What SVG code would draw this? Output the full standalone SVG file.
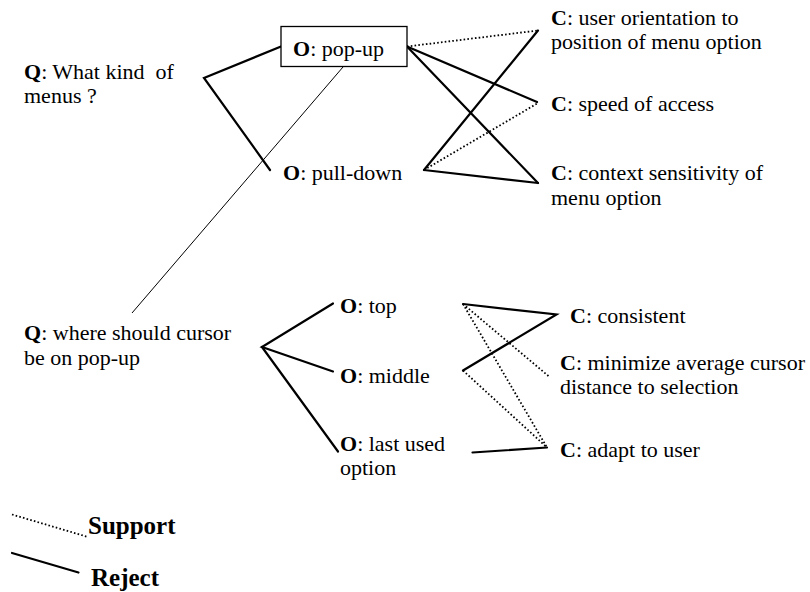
<svg xmlns="http://www.w3.org/2000/svg" width="810" height="592" viewBox="0 0 810 592">
<style>
.t{font-size:22px;fill:#000}
.b{font-weight:bold}
.lg{font-size:25px;font-weight:bold}
.rej{stroke:#000;stroke-width:2.2;fill:none;stroke-linecap:round;stroke-linejoin:miter}
.sup{stroke:#000;stroke-width:1.8;fill:none;stroke-dasharray:1.6 2.2}
.thin{stroke:#000;stroke-width:1;fill:none}
</style>
<rect width="810" height="592" fill="#fff"/>
<g id="connectors">
<polyline class="rej" points="281,46.5 204,78 270,170"/>
<line class="thin" x1="343" y1="67" x2="132" y2="313"/>
<line class="sup" x1="407" y1="46.5" x2="538" y2="30.5"/>
<line class="rej" x1="407" y1="46.5" x2="537" y2="102"/>
<line class="rej" x1="407" y1="46.5" x2="538" y2="183"/>
<line class="rej" x1="424" y1="170" x2="538" y2="30.5"/>
<line class="sup" x1="424" y1="170" x2="538" y2="103"/>
<line class="rej" x1="424" y1="170" x2="538" y2="183"/>
<polyline class="rej" points="333,303.5 262,347 333,371.5"/>
<line class="rej" x1="262" y1="347" x2="338" y2="451.5"/>
<polyline class="rej" points="463,304 556.5,314.5 463,370.5"/>
<line class="sup" x1="463" y1="304" x2="549" y2="376.5"/>
<line class="sup" x1="463" y1="304" x2="547" y2="447.5"/>
<line class="sup" x1="463" y1="370.5" x2="547" y2="447.5"/>
<line class="rej" x1="472.5" y1="452.5" x2="547" y2="447.5"/>
</g>
<g class="t" font-family="Liberation Serif, Times New Roman, serif">
<g id="q-menus"><text x="24" y="79" xml:space="preserve"><tspan class="b">Q</tspan>: What kind  of</text><text x="24" y="103">menus ?</text></g>
<g id="o-popup"><rect x="281" y="26.5" width="126" height="40" fill="#fff" stroke="#000" stroke-width="1.3"/><text x="293" y="56"><tspan class="b">O</tspan>: pop-up</text></g>
<g id="o-pulldown"><text x="283" y="179.5"><tspan class="b">O</tspan>: pull-down</text></g>
<g id="c-orientation"><text x="551" y="24.5"><tspan class="b">C</tspan>: user orientation to</text><text x="551" y="49">position of menu option</text></g>
<g id="c-speed"><text x="551" y="111"><tspan class="b">C</tspan>: speed of access</text></g>
<g id="c-context"><text x="551" y="180"><tspan class="b">C</tspan>: context sensitivity of</text><text x="551" y="204.5">menu option</text></g>
<g id="q-cursor"><text x="24" y="340"><tspan class="b">Q</tspan>: where should cursor</text><text x="24" y="364.5">be on pop-up</text></g>
<g id="o-top"><text x="340" y="313"><tspan class="b">O</tspan>: top</text></g>
<g id="o-middle"><text x="340" y="383"><tspan class="b">O</tspan>: middle</text></g>
<g id="o-last"><text x="340" y="450.5"><tspan class="b">O</tspan>: last used</text><text x="340" y="474.5">option</text></g>
<g id="c-consistent"><text x="570" y="322.5"><tspan class="b">C</tspan>: consistent</text></g>
<g id="c-minimize"><text x="560" y="370"><tspan class="b">C</tspan>: minimize average cursor</text><text x="560" y="394">distance to selection</text></g>
<g id="c-adapt"><text x="560" y="457"><tspan class="b">C</tspan>: adapt to user</text></g>
<g id="legend">
<line class="sup" x1="12" y1="514.5" x2="88" y2="537"/>
<line class="rej" x1="12" y1="553" x2="78.5" y2="572.5"/>
<text class="lg" x="88" y="533.5">Support</text>
<text class="lg" x="91" y="585.5">Reject</text>
</g>
</g>
</svg>
